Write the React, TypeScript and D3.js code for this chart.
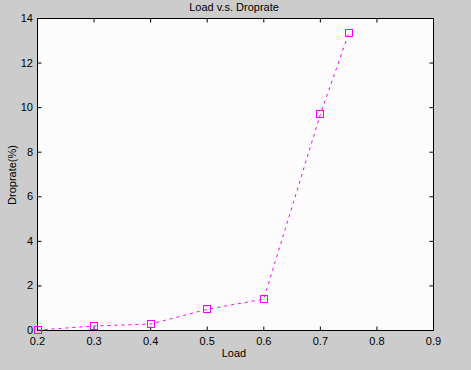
import React from "react";
import * as d3 from "d3";

const loads = [0.2, 0.3, 0.4, 0.5, 0.6, 0.7, 0.75];
const droprates = [0.02, 0.2, 0.29, 0.95, 1.41, 9.7, 13.33];
const xTicks = [0.2, 0.3, 0.4, 0.5, 0.6, 0.7, 0.8, 0.9];
const yTicks = [0, 2, 4, 6, 8, 10, 12, 14];

const W = 471, H = 370;
const L = 37.5, R = 433.5, T = 18.5, B = 330.5;

export default function App() {
  const x = d3.scaleLinear().domain([0.2, 0.9]).range([L, R]);
  const y = d3.scaleLinear().domain([0, 14]).range([B, T]);
  const line = d3.line<number>().x((_, i) => x(loads[i])).y((d) => y(d));
  const font = "'Liberation Sans', Arial, sans-serif";
  const mag = "#ff00ff";
  return (
    <svg width={W} height={H} style={{ position: "absolute", left: 0, top: 0 }} fontFamily={font}>
      <rect width={W} height={H} fill="#cccccc" />
      <rect x={L} y={T} width={R - L} height={B - T} fill="#fcfcfc" />
      <text x={234} y={11} textAnchor="middle" fontSize={11} fill="#000">Load v.s. Droprate</text>
      {xTicks.map((t) => (
        <g key={"x" + t}>
          <line x1={x(t)} x2={x(t)} y1={B} y2={B - 4} stroke="#000" />
          <line x1={x(t)} x2={x(t)} y1={T} y2={T + 4} stroke="#000" />
          <text x={x(t)} y={345} textAnchor="middle" fontSize={11} fill="#000">{t.toFixed(1)}</text>
        </g>
      ))}
      {yTicks.map((t) => (
        <g key={"y" + t}>
          <line x1={L} x2={L + 4} y1={y(t)} y2={y(t)} stroke="#000" />
          <line x1={R} x2={R - 4} y1={y(t)} y2={y(t)} stroke="#000" />
          <text x={33} y={y(t) + 3.5} textAnchor="end" fontSize={11} fill="#000">{t}</text>
        </g>
      ))}
      <rect x={L} y={T} width={R - L} height={B - T} fill="none" stroke="#000" />
      <text x={234} y={357} textAnchor="middle" fontSize={11} fill="#000">Load</text>
      <text transform={`translate(16,175) rotate(-90)`} textAnchor="middle" fontSize={11} fill="#000">Droprate(%)</text>
      <path d={line(droprates) || ""} fill="none" stroke={mag} strokeDasharray="3,4" />
      {droprates.map((d, i) => (
        <rect key={"m" + i} x={Math.round(x(loads[i])) - 3.5} y={Math.round(y(d)) - 3.5} width={7} height={7} fill="none" stroke={mag} />
      ))}
    </svg>
  );
}
